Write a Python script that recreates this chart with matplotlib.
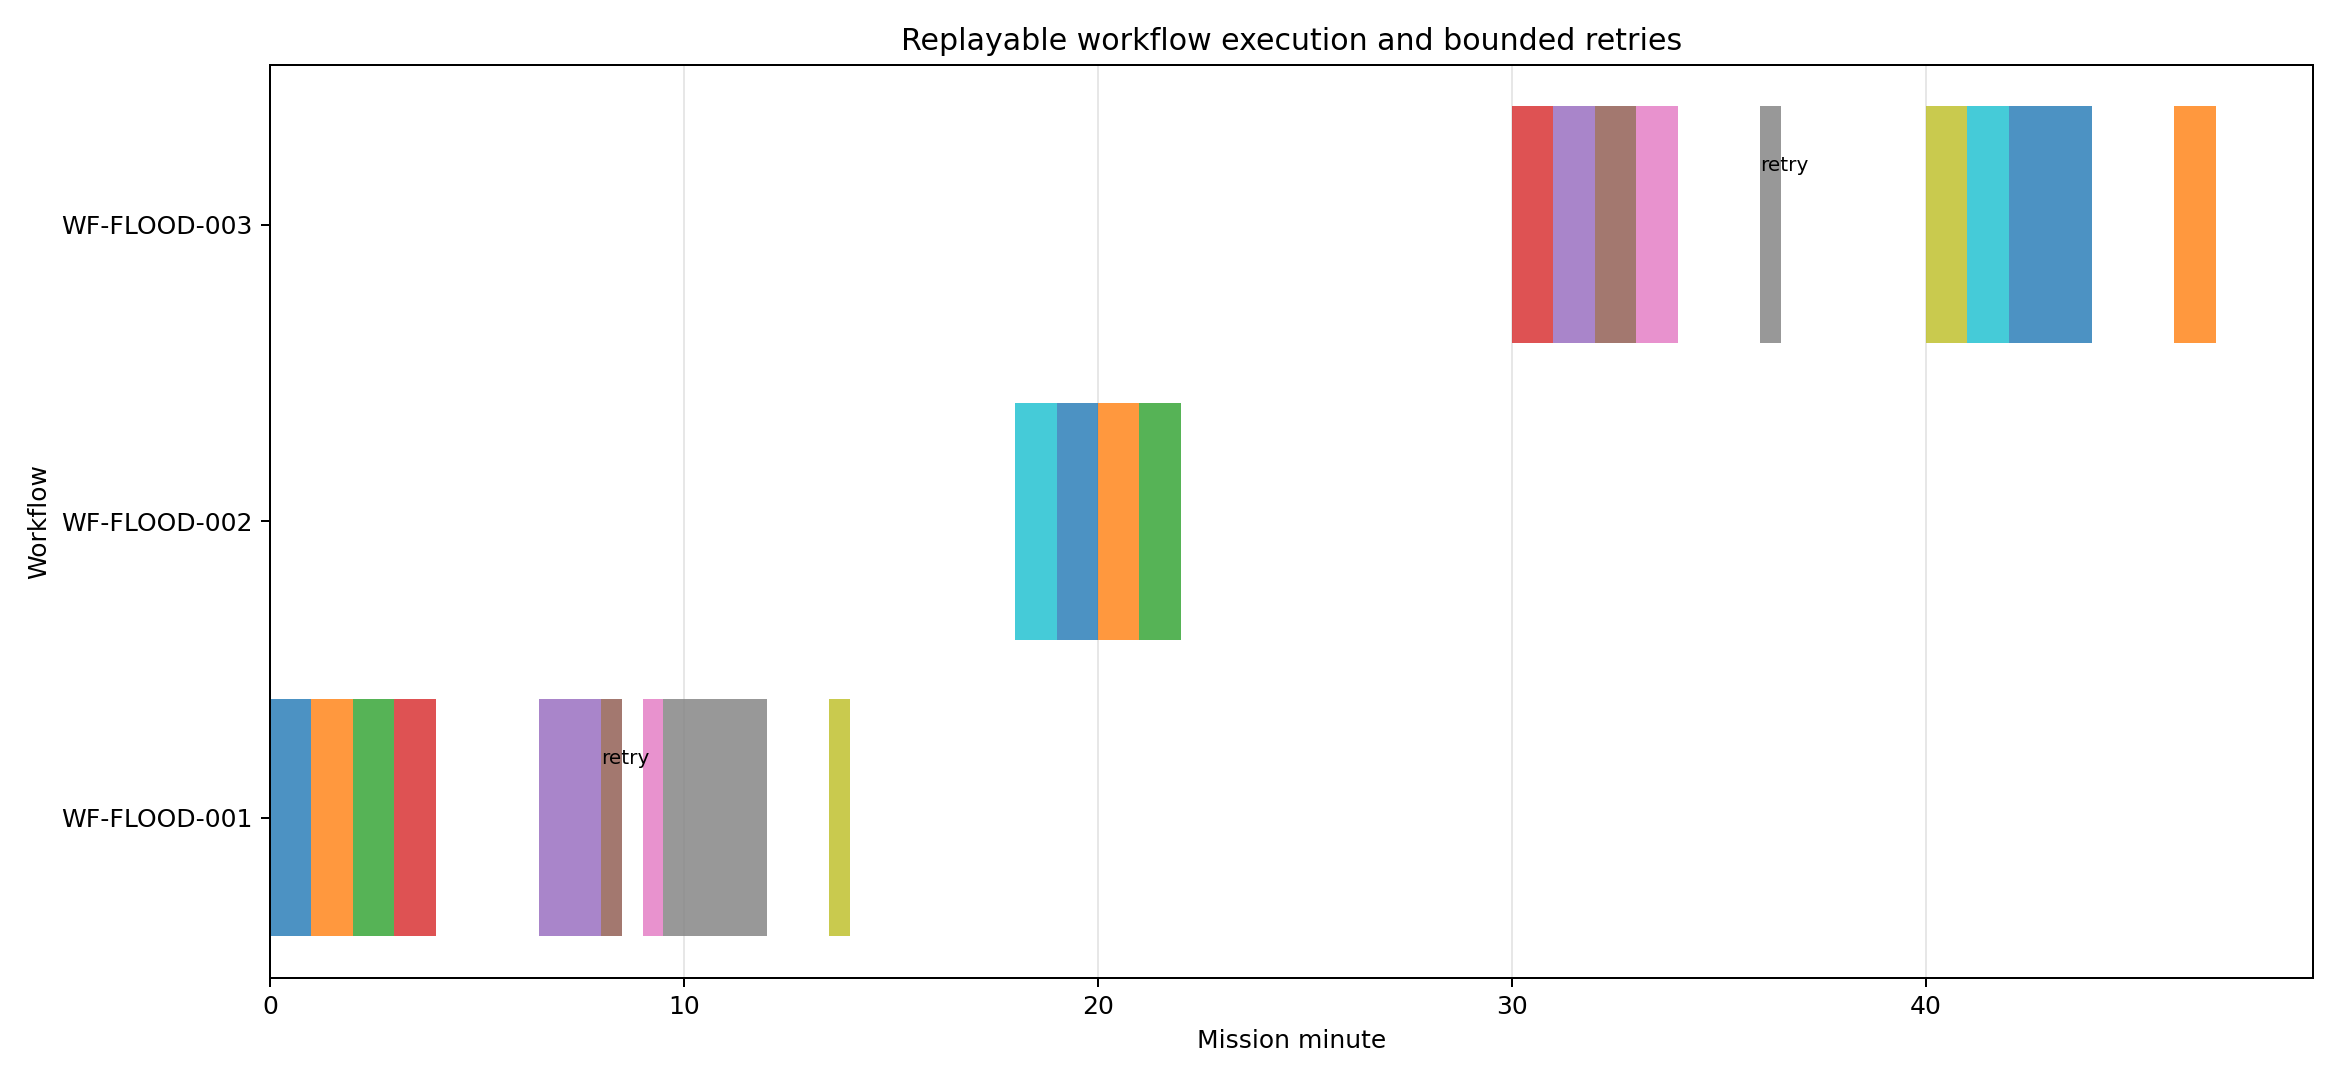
import matplotlib
matplotlib.use("Agg")
import matplotlib.pyplot as plt

workflows = ["WF-FLOOD-001", "WF-FLOOD-002", "WF-FLOOD-003"]
# steps: workflow index, start minute, duration minutes, retry flag
wf_index = [0, 0, 0, 0, 0, 0, 0, 0, 0,
            1, 1, 1, 1,
            2, 2, 2, 2, 2, 2, 2, 2, 2]
starts = [0, 1, 2, 3, 6.5, 8, 9, 9.5, 13.5,
          18, 19, 20, 21,
          30, 31, 32, 33, 36, 40, 41, 42, 46]
durations = [1, 1, 1, 1, 1.5, 0.5, 0.5, 2.5, 0.5,
             1, 1, 1, 1,
             1, 1, 1, 1, 0.5, 1, 1, 2, 1]
retry = [False, False, False, False, False, True, False, False, False,
         False, False, False, False,
         False, False, False, False, True, False, False, False, False]

palette = plt.get_cmap("tab10").colors

DPI = 180
fig, ax = plt.subplots(figsize=(13, 6), dpi=DPI)
for i, (w, s, d, r) in enumerate(zip(wf_index, starts, durations, retry)):
    ax.barh(w, d, left=s, height=0.8, color=palette[i % 10], alpha=0.8)
    if r:
        ax.text(s, w + 0.2, "retry", fontsize=8, va="center", ha="left")

ax.set_yticks(range(len(workflows)))
ax.set_yticklabels(workflows)
ax.set_xlim(left=0)
ax.set_xlabel("Mission minute")
ax.set_ylabel("Workflow")
ax.set_title("Replayable workflow execution and bounded retries")
ax.grid(axis="x", alpha=0.3)
ax.set_axisbelow(True)
fig.tight_layout()
fig.savefig("out.png", dpi=DPI)
